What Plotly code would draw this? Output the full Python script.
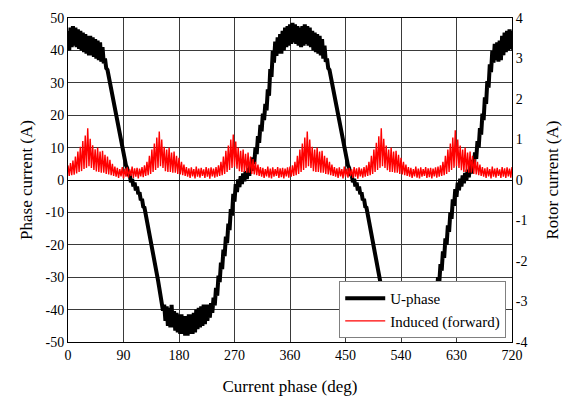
import plotly.graph_objects as go

# Current phase grid (deg), step 4
phase_deg = list(range(0, 721, 4))

# U-phase current (A): centre of the noisy band and its half-height (ripple)
u_mid = [
    43, 44, 44.5, 44, 43.5, 43, 42.5, 42, 41.5, 41.5,
    41, 40.5, 40, 39.5, 38.5, 36, 33, 30, 26, 22,
    18, 13.5, 9.5, 5.5, 2.5, 0.5, -0.8, -2, -3.2, -5,
    -7, -9.5, -12.5, -16.5, -21, -25.5, -30, -34.5, -38.5, -41,
    -42, -42.5, -42, -43.5, -44, -44.5, -44.5, -45, -45, -44.5,
    -44.5, -44, -43, -42.5, -42, -41.5, -41, -40.5, -39.5, -37.5,
    -34.5, -30.5, -26.5, -22.5, -18.5, -14.5, -10, -5.5, -2.5, -1,
    0, 0.8, 1.5, 2.5, 4, 6, 9, 12.5, 16, 19.5,
    22.5, 27, 33, 38, 40.5, 41.5, 42, 43, 44, 44.5,
    45, 45.5, 45, 44.5, 44, 44.5, 45, 44.5, 44, 43,
    42.5, 42, 41.5, 40.5, 39, 36, 33, 30, 26, 22,
    18, 13.5, 9.5, 5.5, 2.5, 0.5, -0.8, -2, -3.2, -5,
    -7, -9.5, -12.5, -16.5, -21, -25.5, -30, -34.5, -38.5, -41,
    -42, -43, -43.5, -44, -44.5, -44.5, -45, -44.5, -44.5, -44,
    -43.5, -43, -42.5, -42, -41.5, -41, -40.5, -39.5, -37.5, -34.5,
    -31, -27, -23, -19, -15, -11, -7, -4, -2, -0.8,
    0.2, 1, 2, 3.2, 5, 7.5, 11, 15, 19.5, 24.5,
    29.5, 34.5, 38, 39.5, 39.5, 40, 41.5, 42.5, 43, 43.5,
    43,
]
u_ripple = [
    3, 3, 3, 3, 3, 3, 3, 3, 3, 3,
    3, 3, 3, 3, 2.5, 1.5, 1, 1, 1, 1,
    1, 1, 1, 1, 1.2, 1.2, 1.2, 1.2, 1.2, 1.2,
    1.2, 1, 1, 1, 1, 1, 1, 1.2, 1.8, 2.5,
    3, 3, 3.5, 3, 3, 3, 3, 3, 3, 3,
    3, 3, 3, 3, 3, 3, 2.5, 2, 1.5, 1.2,
    1.2, 1, 1, 1, 1, 1, 1, 1.2, 1.2, 1.2,
    1.2, 1.2, 1.2, 1.2, 1.2, 1, 1, 1, 1, 1,
    1, 1, 1.2, 1.8, 2.2, 2.5, 3, 3, 3, 3,
    3, 3, 3, 3, 3, 3, 3, 3, 3, 3,
    3, 3, 3, 3, 2.5, 1.5, 1, 1, 1, 1,
    1, 1, 1, 1, 1.2, 1.2, 1.2, 1.2, 1.2, 1.2,
    1.2, 1, 1, 1, 1, 1, 1, 1.2, 1.8, 2.5,
    3, 3, 3, 3, 3, 3, 3, 3, 3, 3,
    3, 3, 3, 3, 3, 2.5, 2, 1.8, 1.2, 1.2,
    1, 1, 1, 1, 1, 1, 1, 1.2, 1.2, 1.2,
    1.2, 1.2, 1.2, 1.2, 1.2, 1, 1, 1, 1, 1,
    1, 1.2, 1.8, 2.5, 3, 3, 3, 3, 3, 3,
    3,
]

# Induced (forward) rotor current (A): upper and lower edges of the noisy trace
rotor_hi = [
    0.36, 0.42, 0.48, 0.58, 0.70, 0.82, 0.96, 1.10, 1.28, 1.02,
    0.86, 0.76, 0.80, 0.70, 0.72, 0.62, 0.58, 0.50, 0.40, 0.33,
    0.30, 0.27, 0.32, 0.28, 0.31, 0.26, 0.33, 0.29, 0.30, 0.28,
    0.32, 0.36, 0.45, 0.60, 0.75, 0.90, 1.05, 1.20, 1.00, 0.82,
    0.75, 0.80, 0.68, 0.70, 0.60, 0.55, 0.45, 0.38, 0.32, 0.29,
    0.31, 0.27, 0.33, 0.28, 0.30, 0.26, 0.32, 0.29, 0.31, 0.28,
    0.32, 0.36, 0.45, 0.58, 0.72, 0.85, 1.00, 1.12, 0.95, 0.80,
    0.72, 0.75, 0.65, 0.68, 0.58, 0.52, 0.45, 0.38, 0.32, 0.30,
    0.27, 0.33, 0.28, 0.31, 0.27, 0.32, 0.29, 0.30, 0.28, 0.31,
    0.33, 0.36, 0.45, 0.60, 0.75, 0.90, 1.05, 1.20, 1.00, 0.82,
    0.75, 0.80, 0.70, 0.72, 0.60, 0.55, 0.45, 0.38, 0.32, 0.29,
    0.31, 0.27, 0.33, 0.28, 0.30, 0.26, 0.32, 0.29, 0.31, 0.28,
    0.32, 0.36, 0.45, 0.60, 0.75, 0.92, 1.08, 1.28, 1.02, 0.85,
    0.75, 0.80, 0.70, 0.72, 0.62, 0.55, 0.45, 0.38, 0.32, 0.30,
    0.27, 0.33, 0.28, 0.31, 0.27, 0.32, 0.29, 0.30, 0.28, 0.31,
    0.33, 0.36, 0.45, 0.60, 0.75, 0.90, 1.05, 1.23, 1.00, 0.85,
    0.75, 0.80, 0.68, 0.70, 0.60, 0.52, 0.45, 0.38, 0.32, 0.29,
    0.31, 0.27, 0.33, 0.28, 0.30, 0.26, 0.32, 0.29, 0.31, 0.28,
    0.32,
]
rotor_lo = [
    0.10, 0.12, 0.13, 0.16, 0.20, 0.22, 0.27, 0.30, 0.34, 0.30,
    0.25, 0.21, 0.20, 0.18, 0.18, 0.15, 0.14, 0.12, 0.10, 0.08,
    0.05, 0.09, 0.04, 0.08, 0.06, 0.10, 0.05, 0.08, 0.04, 0.09,
    0.07, 0.10, 0.12, 0.15, 0.20, 0.25, 0.30, 0.34, 0.30, 0.22,
    0.20, 0.20, 0.18, 0.18, 0.15, 0.14, 0.12, 0.10, 0.08, 0.05,
    0.09, 0.04, 0.08, 0.06, 0.10, 0.05, 0.08, 0.03, 0.09, 0.06,
    0.08, 0.10, 0.12, 0.15, 0.20, 0.25, 0.30, 0.33, 0.28, 0.22,
    0.20, 0.20, 0.18, 0.18, 0.15, 0.14, 0.12, 0.10, 0.08, 0.05,
    0.09, 0.06, 0.04, 0.08, 0.10, 0.05, 0.07, 0.04, 0.09, 0.06,
    0.08, 0.10, 0.12, 0.15, 0.20, 0.25, 0.30, 0.34, 0.30, 0.22,
    0.20, 0.20, 0.18, 0.18, 0.15, 0.14, 0.12, 0.10, 0.08, 0.05,
    0.09, 0.04, 0.08, 0.06, 0.10, 0.05, 0.08, 0.03, 0.09, 0.06,
    0.08, 0.10, 0.12, 0.15, 0.20, 0.25, 0.30, 0.34, 0.30, 0.24,
    0.20, 0.20, 0.18, 0.18, 0.15, 0.14, 0.12, 0.10, 0.08, 0.05,
    0.09, 0.06, 0.04, 0.08, 0.10, 0.05, 0.07, 0.04, 0.09, 0.06,
    0.08, 0.10, 0.12, 0.15, 0.20, 0.25, 0.30, 0.34, 0.30, 0.24,
    0.20, 0.20, 0.18, 0.18, 0.15, 0.14, 0.12, 0.10, 0.08, 0.05,
    0.09, 0.04, 0.08, 0.06, 0.10, 0.05, 0.08, 0.05, 0.09, 0.06,
    0.10,
]

x_ticks = [0, 90, 180, 270, 360, 450, 540, 630, 720]
y_left_ticks = [-50, -40, -30, -20, -10, 0, 10, 20, 30, 40, 50]
y_right_ticks = [-4, -3, -2, -1, 0, 1, 2, 3, 4]

assert len(u_mid) == len(phase_deg) == len(u_ripple) == len(rotor_hi) == len(rotor_lo)


def zigzag(xs, hi, lo):
    """Alternate between the upper and lower edge to draw the noisy trace."""
    zx, zy = [], []
    for i, x in enumerate(xs):
        zx.append(x)
        zy.append(hi[i])
        zx.append(x + 2)
        zy.append(lo[i])
    return zx, zy


u_hi = [m + r for m, r in zip(u_mid, u_ripple)]
u_lo = [m - r for m, r in zip(u_mid, u_ripple)]
ux, uy = zigzag(phase_deg, u_hi, u_lo)
rx, ry = zigzag(phase_deg, rotor_hi, rotor_lo)

SERIF = "Liberation Serif, Times New Roman, serif"
GRID = "#3a3a3a"

fig = go.Figure()
fig.add_trace(go.Scatter(
    x=ux, y=uy, mode="lines", name="U-phase", legendgroup="u",
    line=dict(color="black", width=4), yaxis="y",
))
fig.add_trace(go.Scatter(
    x=rx, y=ry, mode="lines", name="Induced (forward)", legendgroup="r",
    line=dict(color="#ff0000", width=1.4), yaxis="y2",
))

fig.update_layout(
    width=568, height=400,
    margin=dict(l=68, r=56, t=18, b=58),
    paper_bgcolor="white", plot_bgcolor="white",
    font=dict(family=SERIF, size=14, color="black"),
    showlegend=True,
    legend=dict(
        x=0.987, y=0.012, xanchor="right", yanchor="bottom",
        bgcolor="white", bordercolor="#808080", borderwidth=1,
        font=dict(family=SERIF, size=15, color="black"),
        itemwidth=40, tracegroupgap=0,
    ),
    xaxis=dict(
        range=[0, 720], tickvals=x_ticks, ticktext=[str(t) for t in x_ticks],
        showgrid=True, gridcolor=GRID, gridwidth=1,
        showline=True, linecolor="black", linewidth=1, mirror=True,
        ticks="", zeroline=False, automargin=False,
        tickfont=dict(family=SERIF, size=14, color="black"),
        title=dict(text="Current phase (deg)", font=dict(family=SERIF, size=17, color="black"), standoff=18),
    ),
    yaxis=dict(
        range=[-50, 50], tickvals=y_left_ticks, ticktext=[str(t) for t in y_left_ticks],
        showgrid=True, gridcolor=GRID, gridwidth=1,
        showline=True, linecolor="black", linewidth=1, mirror=True,
        ticks="", zeroline=True, zerolinecolor="black", zerolinewidth=1,
        automargin=False,
        tickfont=dict(family=SERIF, size=14, color="black"),
        title=dict(text="Phase current (A)", font=dict(family=SERIF, size=17, color="black"), standoff=8),
    ),
    yaxis2=dict(
        range=[-4, 4], tickvals=y_right_ticks, ticktext=[str(t) for t in y_right_ticks],
        overlaying="y", side="right",
        showgrid=False, zeroline=False, ticks="",
        showline=True, linecolor="black", linewidth=1, automargin=False,
        tickfont=dict(family=SERIF, size=14, color="black"),
        title=dict(text="Rotor current (A)", font=dict(family=SERIF, size=17, color="black"), standoff=19),
    ),
)

fig.write_html(
    "out.html",
    config={"displayModeBar": False},
    post_script="document.body.style.margin='0';document.body.style.padding='0';",
)
